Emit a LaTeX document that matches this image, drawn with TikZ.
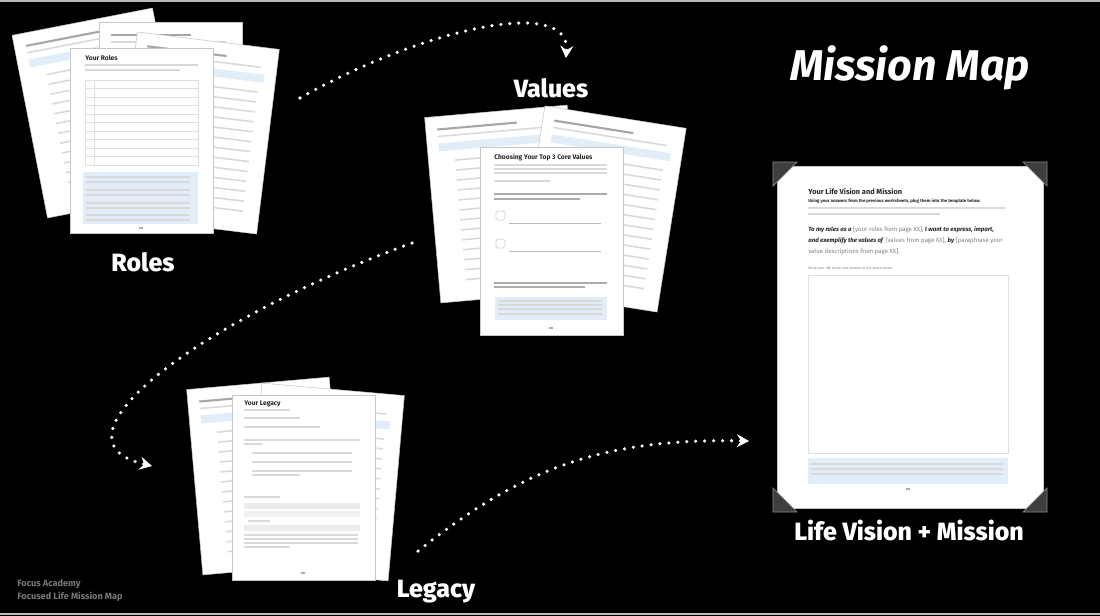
\documentclass[tikz,border=0pt]{standalone}
\usepackage{fontspec}
\setmainfont{Fira Sans}
\IfFontExistsTF{Fira Sans ExtraBold}
  {\newfontfamily\heavyfont{Fira Sans ExtraBold}}
  {\newcommand\heavyfont{\bfseries}}
\usetikzlibrary{arrows.meta}

\definecolor{tintblue}{RGB}{226,237,250}
\definecolor{footgray}{RGB}{120,120,120}
\definecolor{cornergray}{RGB}{62,62,62}

\tikzset{
  stagetitle/.style={text=white, inner sep=0pt, font=\heavyfont\fontsize{14.2}{16}\selectfont},
  dotpath/.style={white, line width=2pt, line cap=round, dash pattern=on 0pt off 5.1pt,
    -{Stealth[length=7pt, width=7.5pt, inset=2.5pt, line width=0.4pt]}},
  sheet/.style={fill=white, draw=gray!45, line width=0.3pt},
  textbar/.style={draw=gray!30, line width=0.9pt},
  darkbar/.style={draw=gray!65, line width=0.9pt},
  headbar/.style={draw=gray!70, line width=1.2pt},
  thinrule/.style={draw=gray!25, line width=0.3pt},
  tiny/.style={inner sep=0pt, anchor=west, text=black!85, font=\bfseries\fontsize{3.8}{4.5}\selectfont},
  photocorner/.style={fill=cornergray, draw=black!45, line width=0.4pt},
  sheetback/.pic={
    \draw[sheet] (-71.5,-93) rectangle (71.5,93);
    \draw[headbar] (-60,-80) -- (20,-80);
    \draw[textbar] (-60,-73) -- (55,-73);
    \fill[tintblue] (-60,-66) rectangle (60,-58);
    \foreach \r in {-48,-38,...,72}
      \draw[textbar] (-45,\r) -- (55,\r);
  }
}

\begin{document}
\begin{tikzpicture}[x=0.02cm, y=-0.02cm]
  \useasboundingbox (0,0) rectangle (1100,616);
  \fill[black] (0,0) rectangle (1100,616);
  \draw[gray!55, line width=1.2pt] (0,1) -- (1100,1);
  \draw[gray!55, line width=1.2pt] (0,614) -- (1100,614);

  % roles
  \pic[rotate=11] at (100,113) {sheetback};
  \pic at (171,115) {sheetback};
  \pic[rotate=-7] at (197,133) {sheetback};
  \draw[sheet] (70,48) rectangle (213,233);
  \node[tiny] (rolestitle) at (85,58) {Your Roles};
  \draw[textbar] (85,65) -- (198,65);
  \draw[textbar] (85,70) -- (180,70);
  \draw[thinrule] (85,80) rectangle (198,165);
  \foreach \r in {88.5,97,...,157}
    \draw[thinrule] (85,\r) -- (198,\r);
  \draw[thinrule] (94,80) -- (94,165);
  \fill[tintblue] (83,172) rectangle (198,224);
  \foreach \r in {177,182,190,195,203,208,215,220}
    \draw[textbar] (86,\r) -- (190,\r);
  \draw[darkbar] (139,228) -- (143,228);
  \node[stagetitle] (roles) at (143,262) {Roles};

  % values
  \pic[rotate=5] at (504,204) {sheetback};
  \pic[rotate=-9] at (601,209) {sheetback};
  \draw[sheet] (480,147) rectangle (623,335);
  \node[tiny] (valuestitle) at (494,158) {Choosing Your Top 3 Core Values};
  \foreach \r in {165,169,173}
    \draw[textbar] (494,\r) -- (607,\r);
  \draw[textbar] (494,181) -- (550,181);
  \draw[darkbar] (494,194) -- (607,194);
  \draw[darkbar] (494,199) -- (580,199);
  \draw[gray!40, line width=0.4pt, rounded corners=1pt] (496,211) rectangle (505,220);
  \draw[gray!40, line width=0.4pt, rounded corners=1pt] (496,239) rectangle (505,248);
  \draw[gray!55, line width=0.5pt] (509,223) -- (601,223);
  \draw[gray!55, line width=0.5pt] (509,251) -- (601,251);
  \draw[darkbar] (494,283) -- (607,283);
  \draw[darkbar] (494,287) -- (585,287);
  \fill[tintblue] (495,297) rectangle (607,320);
  \foreach \r in {301,305,309,314}
    \draw[textbar] (498,\r) -- (602,\r);
  \draw[darkbar] (549,328) -- (553,328);
  \node[stagetitle] (values) at (551,88) {Values};

  % legacy
  \pic[rotate=5] at (266,476) {sheetback};
  \pic[rotate=-5] at (325,482) {sheetback};
  \draw[sheet] (232,395) rectangle (375,580);
  \node[tiny] (legacytitle) at (244,404) {Your Legacy};
  \draw[textbar] (244,410) -- (290,410);
  \draw[textbar] (244,418) -- (300,418);
  \draw[textbar] (244,427) -- (320,427);
  \draw[textbar] (244,440) -- (360,440);
  \draw[textbar] (244,444) -- (262,444);
  \foreach \r in {453,462,471}
    \draw[textbar] (252,\r) -- (352,\r);
  \draw[textbar] (252,475) -- (300,475);
  \draw[textbar] (244,497) -- (280,497);
  \fill[gray!15] (244,503) rectangle (360,509);
  \fill[gray!10] (244,511) rectangle (360,517);
  \draw[textbar] (248,521) -- (270,521);
  \fill[gray!15] (244,525) rectangle (360,531);
  \foreach \r in {535,539,543}
    \draw[textbar] (244,\r) -- (358,\r);
  \draw[textbar] (244,547) -- (290,547);
  \draw[darkbar] (301,573) -- (305,573);
  \node[stagetitle] (legacy) at (436,592) {Legacy};

  % life vision + mission
  \draw[sheet] (777,166) rectangle (1043,508);
  \draw[photocorner] (773,162) -- (797,162) -- (773,186) -- cycle;
  \draw[photocorner] (1047,162) -- (1023,162) -- (1047,186) -- cycle;
  \draw[photocorner] (773,512) -- (797,512) -- (773,488) -- cycle;
  \draw[photocorner] (1047,512) -- (1023,512) -- (1047,488) -- cycle;
  \node[tiny, font=\bfseries\fontsize{4.2}{5}\selectfont] (missiontitle) at (808,192) {Your Life Vision and Mission};
  \node[tiny, font=\bfseries\fontsize{2.5}{3}\selectfont] (missionintro) at (808,201)
    {Using your answers from the previous worksheets, plug them into the template below.};
  \draw[textbar] (808,208) -- (1005,208);
  \draw[textbar] (808,214) -- (940,214);
  \node[tiny, anchor=north west, align=left,
        font=\fontsize{3.45}{6.2}\selectfont] (missionstatement) at (808,226)
    {\textbf{\textit{To my roles as a}} {\color{gray}[your roles from page XX],} \textbf{\textit{I want to express, impart,}}\\
     \textbf{\textit{and exemplify the values of}} {\color{gray}[values from page XX],} \textbf{\textit{by}} {\color{gray}[paraphrase your}\\
     {\color{gray}value descriptions from page XX].}};
  \node[tiny, text=gray, font=\fontsize{2}{2.5}\selectfont] (missionprompt) at (808,268)
    {Write your life vision and mission in the space below.};
  \draw[thinrule] (808,275) rectangle (1008,453);
  \fill[tintblue] (808,458) rectangle (1008,484);
  \foreach \r in {464,469,474}
    \draw[textbar] (811,\r) -- (1003,\r);
  \draw[darkbar] (906,489) -- (910,489);
  \node[stagetitle] (lifemission) at (909,530) {Life Vision + Mission};

  \node[text=white, inner sep=0pt, font=\bfseries\itshape\fontsize{24.5}{27}\selectfont] (maptitle) at (910,68) {Mission Map};

  % dotted trails between the stages
  \coordinate (rolesout) at (300,98);
  \coordinate (valuesin) at (566,58);
  \coordinate (valuesout) at (412,243);
  \coordinate (legacyin) at (152,466);
  \coordinate (legacyout) at (418,551);
  \coordinate (missionin) at (749,441);
  \draw[dotpath] (rolesout) .. controls (420,30) and (570,-5) .. (valuesin);
  \draw[dotpath] (valuesout) .. controls (200,320) and (40,440) .. (legacyin);
  \draw[dotpath] (legacyout) .. controls (520,470) and (600,438) .. (missionin);

  \node[inner sep=0pt, anchor=west, text=footgray, font=\bfseries\fontsize{5.2}{6}\selectfont] (footone) at (17,584) {Focus Academy};
  \node[inner sep=0pt, anchor=west, text=footgray, font=\bfseries\fontsize{5.2}{6}\selectfont] (foottwo) at (17,597) {Focused Life Mission Map};
\end{tikzpicture}
\end{document}
